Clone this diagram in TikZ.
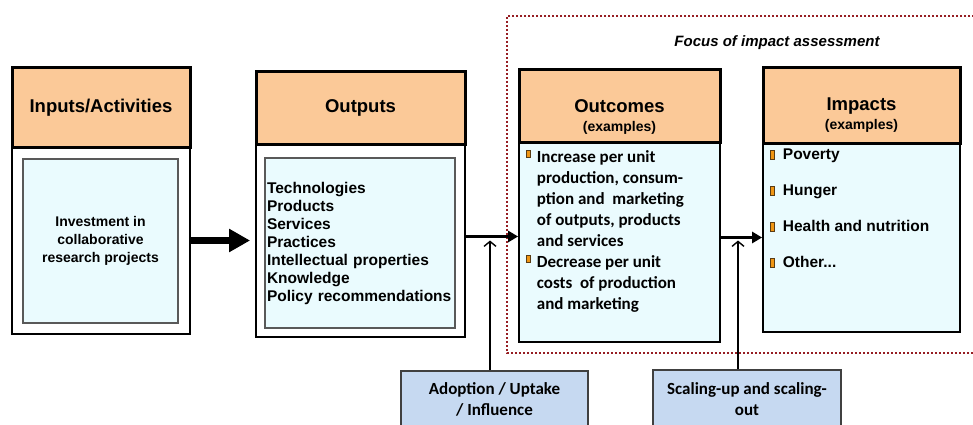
\documentclass[tikz,border=0pt]{standalone}
\usepackage{fontspec}
\setmainfont{Liberation Sans}
\newfontfamily\calfont{Carlito}
\usetikzlibrary{arrows.meta}
\definecolor{headfill}{RGB}{251,201,152}
\definecolor{bodyfill}{RGB}{234,251,254}
\definecolor{pathfill}{RGB}{198,217,241}
\definecolor{focusred}{RGB}{150,30,35}
\definecolor{bulfill}{RGB}{240,150,20}
\definecolor{bulline}{RGB}{90,60,20}
\newcommand{\sqbul}[2]{\raisebox{#1}{\setlength{\fboxsep}{0pt}\setlength{\fboxrule}{0.8pt}\fcolorbox{bulline}{bulfill}{\rule{0pt}{#2}\hspace{3pt}}}}

\begin{document}
\begin{tikzpicture}[x=1pt,y=-1pt,>=Stealth,auto]
  \tikzstyle{head}=[rectangle,draw=black,line width=3pt,fill=headfill,font=\fontsize{18.5}{22}\selectfont\bfseries]
  \tikzstyle{headtxt}=[align=center,inner sep=0pt,font=\fontsize{18.5}{19}\selectfont\bfseries]
  \tikzstyle{body}=[rectangle,draw=black,line width=1.8pt]
  \tikzstyle{inner}=[rectangle,draw=black!65,line width=1.1pt,fill=bodyfill,font=\bfseries]
  \tikzstyle{pathbox}=[rectangle,draw=black!75,line width=1.3pt,fill=pathfill,align=center,font=\calfont\bfseries\fontsize{17}{21}\selectfont]
  \tikzstyle{arr}=[line width=2.5pt,-{Triangle[length=10pt,width=11pt]}]
  \tikzstyle{push}=[line width=1.4pt,-{Straight Barb[length=5pt,width=12pt]}]
  \useasboundingbox (0,0) rectangle (973,425);

  % focus frame
  \draw[focusred,line width=2.2pt,dash pattern=on 1.8pt off 2.2pt] (990,16) -- (507,16) -- (507,353) -- (990,353);
  \node[inner sep=0pt,font=\fontsize{15}{18}\selectfont\bfseries\itshape] (focus) at (777,43) {Focus of impact assessment};

  % inputs
  \node[body,minimum width=178pt,minimum height=187pt] (inbody) at (101,240.5) {};
  \node[head,minimum width=178pt,minimum height=79pt] (inhead) at (101,107.5) {Inputs/Activities};
  \node[inner,minimum width=155pt,minimum height=164pt,align=center,font=\fontsize{14}{18}\selectfont\bfseries] (ininner) at (100.5,241)
    {Investment in\\collaborative\\research projects};

  % outputs
  \node[body,minimum width=209pt,minimum height=193pt] (outbody) at (360.5,240.5) {};
  \node[head,minimum width=209pt,minimum height=72pt] (outhead) at (360.5,108) {Outputs};
  \node[inner,minimum width=190pt,minimum height=170pt,text width=186pt,inner xsep=2pt,align=left,font=\fontsize{15.5}{18}\selectfont\bfseries] (outinner) at (360,243)
    {Technologies\\Products\\Services\\Practices\\Intellectual properties\\Knowledge\\Policy recommendations};

  % outcomes
  \node[body,fill=bodyfill,minimum width=201pt,minimum height=200pt] (ocbody) at (619.5,242) {};
  \node[head,minimum width=201pt,minimum height=72pt] (ochead) at (619.5,106) {};
  \node[headtxt] (octitle) at (619.5,116.5) {Outcomes\\{\fontsize{14}{15}\selectfont (examples)}};
  \node[anchor=north west,inner sep=0pt,font=\calfont\bfseries\fontsize{17}{21}\selectfont] (oclist) at ([xshift=8pt,yshift=-6pt]ocbody.north west)
    {\begin{tabular}{@{}l@{\hspace{6pt}}l@{}}
      \sqbul{5pt}{6pt} & Increase per unit\\
       & production, consum-\\
       & ption and\ \ marketing\\
       & of outputs, products\\
       & and services\\
      \sqbul{5pt}{6pt} & Decrease per unit\\
       & costs\ \ of production\\
       & and marketing
    \end{tabular}};

  % impacts
  \node[body,fill=bodyfill,minimum width=197pt,minimum height=189pt] (impbody) at (861.5,237.5) {};
  \node[head,minimum width=197pt,minimum height=75pt] (imphead) at (861.5,105.5) {};
  \node[headtxt] (imptitle) at (861.5,115.5) {Impacts\\{\fontsize{14}{15}\selectfont (examples)}};
  \node[anchor=north west,inner sep=0pt,font=\fontsize{15.5}{18}\selectfont\bfseries] (implist) at ([xshift=8pt,yshift=-5pt]impbody.north west)
    {\begin{tabular}{@{}l@{\hspace{8pt}}l@{}}
      \sqbul{1pt}{8pt} & Poverty\\[18pt]
      \sqbul{1pt}{8pt} & Hunger\\[18pt]
      \sqbul{1pt}{8pt} & Health and nutrition\\[18pt]
      \sqbul{1pt}{8pt} & Other...
    \end{tabular}};

  % pathways
  \node[pathbox,minimum width=187pt,minimum height=57pt] (adopt) at (494.5,399.5) {Adoption / Uptake\\/ Influence};
  \node[pathbox,minimum width=188pt,minimum height=58pt] (scale) at (747,399) {Scaling-up and scaling-\\out};

  % connectors
  \draw[line width=7pt,-{Triangle[length=21pt,width=22pt]},shorten >=5pt] (inbody.east) -- (outbody.west);
  \coordinate (oa) at ([yshift=4pt]outbody.east);
  \draw[arr] (oa) -- (oa -| ocbody.west);
  \draw[arr] (ocbody.east |- impbody.west) -- (impbody.west);
  \draw[push] ([xshift=-4.5pt]adopt.north) -- ([xshift=-4.5pt]adopt.north |- outbody.east);
  \draw[push] ([xshift=-9pt]scale.north) -- ([xshift=-9pt]scale.north |- outbody.east);
\end{tikzpicture}
\end{document}
